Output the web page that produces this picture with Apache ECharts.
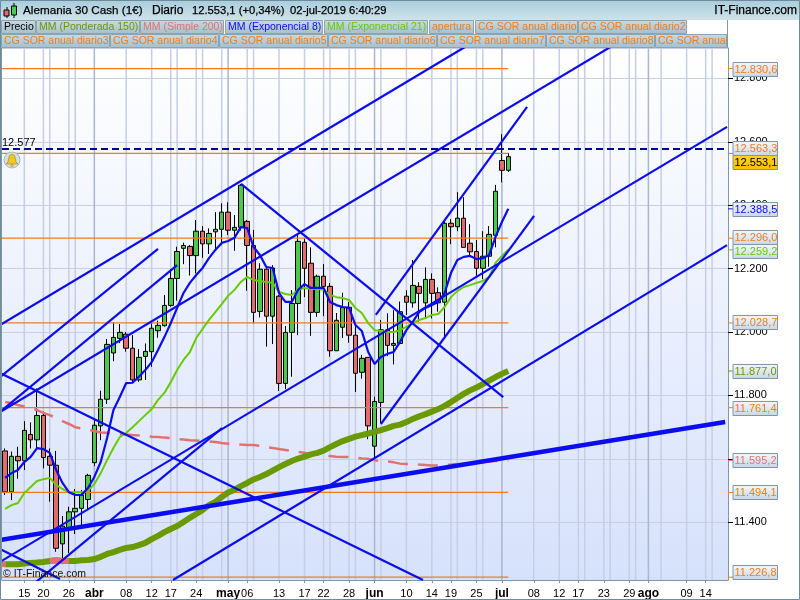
<!DOCTYPE html>
<html><head><meta charset="utf-8">
<style>html,body{margin:0;padding:0;background:#fff}#c{width:800px;height:600px}</style>
<script src="https://cdn.jsdelivr.net/npm/echarts@6/dist/echarts.min.js"></script>
</head><body><div id="c"></div>
<script>
const opens=[11625,11496,11608,11594,11677,11660,11737,11608,11580,11332,11383,11433,11444,11472,11588,11704,11788,11934,11980,11993,11949,11849,11923,11938,12004,12020,12084,12169,12264,12270,12241,12318,12278,12316,12324,12378,12321,12330,12349,12273,12065,12198,12050,12113,11838,11999,12090,12283,12217,12062,12176,12144,11941,12015,12078,11990,11873,11920,11640,11778,12007,11958,11964,12113,12092,12144,12092,12166,12124,12094,12343,12332,12359,12280,12254,12201,12239,12305,12541,12510];
const closes=[11496,11608,11594,11690,11660,11737,11604,11580,11318,11388,11433,11444,11486,11548,11706,11788,11961,11983,11999,11949,11849,11920,11939,12012,12021,12084,12169,12254,12273,12241,12318,12278,12311,12324,12378,12321,12330,12463,12273,12062,12198,12050,12202,11838,11999,12090,12286,12201,12062,12176,12144,11941,12037,12077,11990,11870,11917,11704,11781,12007,11958,11964,12064,12094,12147,12122,12166,12122,12092,12343,12332,12359,12267,12253,12201,12239,12308,12444,12510,12553];
const lows=[11486,11470,11537,11565,11633,11634,11570,11465,11307,11268,11303,11363,11391,11439,11577,11659,11773,11908,11965,11938,11839,11843,11849,11890,11982,12017,12080,12099,12214,12178,12185,12234,12246,12262,12274,12306,12256,12320,12130,12027,12046,11954,11962,11814,11820,11859,11990,12110,11988,12048,12050,11922,11941,11981,11966,11811,11853,11662,11603,11712,11924,11898,11962,12054,12077,12033,12043,12043,12064,11985,12277,12318,12267,12243,12174,12167,12206,12267,12472,12505];
const highs=[11633,11623,11638,11719,11715,11822,11749,11633,11625,11420,11449,11505,11502,11553,11722,11815,11978,12031,12025,12000,11990,11946,11964,12028,12036,12117,12198,12269,12282,12274,12353,12334,12327,12378,12406,12409,12369,12467,12353,12322,12217,12201,12211,12117,12019,12132,12306,12296,12267,12181,12214,12155,12060,12124,12095,12022,11928,11921,11796,12038,12059,12069,12096,12132,12227,12157,12204,12185,12141,12351,12356,12441,12425,12340,12290,12318,12334,12464,12624,12564];
const ema8=[11540,11555,11565,11590,11606,11634,11631,11619,11565,11524,11495,11486,11486,11508,11543,11590,11666,11754,11795,11839,11840,11859,11880,11905,11943,11984,12028,12076,12123,12155,12180,12202,12233,12259,12281,12287,12297,12331,12328,12268,12243,12205,12202,12123,12095,12095,12133,12151,12139,12139,12139,12095,12085,12079,12076,12022,12003,11937,11899,11921,11931,11937,11969,12006,12032,12063,12076,12085,12095,12123,12186,12227,12237,12240,12230,12233,12243,12300,12347,12388.5];
const ema21=[11442,11454,11461,11492,11511,11530,11536,11540,11518,11505,11495,11495,11495,11499,11521,11555,11596,11634,11669,11682,11700,11719,11738,11757,11786,11808,11842,11880,11912,11937,11981,12010,12038,12063,12088,12114,12133,12158,12174,12164,12161,12158,12155,12126,12120,12117,12133,12139,12136,12136,12133,12117,12110,12107,12101,12076,12060,12028,12006,12003,12000,12000,12006,12016,12028,12038,12044,12054,12057,12079,12110,12129,12142,12148,12155,12161,12174,12218,12240,12259.2];
const wma150=[11268,11268,11268,11270,11272,11273,11275,11278,11280,11278,11278,11278,11280,11281,11284,11291,11300,11306,11313,11319,11322,11328,11335,11347,11357,11369,11379,11388,11401,11414,11426,11439,11454,11464,11480,11494,11502,11514,11524,11535,11543,11552,11563,11574,11584,11593,11601,11607,11614,11619,11626,11637,11647,11656,11663,11670,11675,11680,11685,11691,11697,11704,11708,11716,11726,11734,11741,11749,11757,11767,11779,11792,11805,11816,11825,11836,11847,11858,11868,11877];
const sma200=[11779,11776,11770,11765,11760,11754,11745,11738,11729,11719,11710,11700,11696,11691,11688,11683,11682,11680,11678,11677,11675,11674,11672,11670,11669,11667,11666,11663,11661,11659,11658,11656,11655,11653,11650,11648,11647,11645,11644,11644,11641,11637,11634,11631,11628,11625,11622,11619,11615,11614,11612,11609,11607,11606,11606,11604,11601,11600,11596,11593,11592,11589,11585,11584,11584,11582,11581,11579,11579,11581,11582,11584,11585,11587,11589,11590,11592,11593,11594,11595.2];
const sorLevels=[12830.6,12563.3,12296.0,12028.7,11761.4,11494.1,11226.8];
const alertLevel=12577;
const trendLines=[[-0.81,12022,72.2,12899],[-0.81,11748,95.3,12902],[-0.81,11275,113.35,12647],[26.35,11218,113.35,12274],[4.68,11209,34.05,11697],[-0.81,11858,24.0,12262],[-0.81,11748,27.0,12211],[-0.81,11871,65.6,11218],[-0.81,11316,8.6,11221],[37.03,12467,78.2,11795],[58.2,12054,81.95,12710],[59.0,11710,83.05,12366]];
const thickLine=[-0.81,11344,113.05,11716];
const slotCount=114;
const tickIndex=[3,6,10,14,19,23,26,30,35,38,43,47,50,54,58,63,67,70,74,78,83,87,90,94,98,101,107,110];
const tickText=['15','20','26','abr','08','12','17','24','may','06','13','17','22','28','jun','10','14','19','25','jul','08','12','17','23','29','ago','09','14'];
const minorGrid=[3,6,7,10,11,19,23,26,27,30,31,34,38,39,43,47,50,51,54,55,59,63,67,70,71,74,75,83,87,90,91,94,95,98,99,103,107,110,111];
const monthGrid=[14,35,58,78,101];
const tagValues=[12830.6,12563.3,12388.5,12296.0,12259.2,12028.7,11877.0,11761.4,11595.2,11494.1,11226.8];
const tagTexts=['12.830,6','12.563,3','12.388,5','12.296,0','12.259,2','12.028,7','11.877,0','11.761,4','11.595,2','11.494,1','11.226,8'];
const lastPrice=12553.1, lastText='12.553,1';
const yMin=11218, yMax=12895.7;

const ORANGE='#f07d1a',BLUE='#0c0cf0',OLIVE='#6a9a00',LIME='#66cc00',ROSE='#e27272';
const tagColor=[ORANGE,ORANGE,BLUE,ORANGE,LIME,ORANGE,OLIVE,ORANGE,ROSE,ORANGE,ORANGE];
const tagNudge=[0,-5.5,0,-1,1,-1,0,0,0,0,-5];
const FONT='"Liberation Sans",Arial,sans-serif';
const pairs=a=>a.map((v,i)=>[i,v]);
const lineS=(data,color,width,z,extra)=>Object.assign({type:'line',xAxisIndex:1,yAxisIndex:0,data,symbol:'none',silent:true,animation:false,z,lineStyle:{color,width,cap:'butt'}},extra||{});
const vlines=list=>list.flatMap(i=>[[i,yMin],[i,yMax],[i,null]]);

const series=[];
series.push(lineS(vlines(minorGrid),'#c6cee4',1.5,1));
series.push(lineS(vlines(monthGrid),'#aab6cc',1.5,1));
series.push({type:'candlestick',xAxisIndex:0,yAxisIndex:0,barWidth:5,z:2,silent:true,animation:false,
  data:opens.map((o,i)=>[o,closes[i],lows[i],highs[i]]),
  itemStyle:{color:'#4cc94c',color0:'#e06c6c',borderColor:'#000',borderColor0:'#000',borderColorDoji:'#000',borderWidth:1}});
sorLevels.forEach(v=>series.push(lineS([[-0.5,v],[79,v]],ORANGE,1.3,3)));
series.push(lineS(pairs(sma200),ROSE,2.5,3,{lineStyle:{color:ROSE,width:2.5,type:[20,10]}}));
series.push(lineS(pairs(wma150),OLIVE,6,3));
series.push(lineS([[-0.5,wma150[0]],[0,wma150[0]]],ROSE,6,3));
series.push(lineS([7,8,9,10].map(i=>[i,wma150[i]]),ROSE,6,3));
series.push(lineS(pairs(ema21),LIME,2,4));
series.push(lineS(pairs(ema8),BLUE,2.2,5));
trendLines.forEach(t=>series.push(lineS([[t[0],t[1]],[t[2],t[3]]],BLUE,2.2,5)));
series.push(lineS([[thickLine[0],thickLine[1]],[thickLine[2],thickLine[3]]],BLUE,4.5,5));
series.push(lineS([[-0.5,alertLevel],[113.5,alertLevel]],'#0000a0',2,6,{lineStyle:{color:'#0000a0',width:2,type:[7,4]}}));

const slots=Array.from({length:slotCount},(_,i)=>String(i));
const chart=echarts.init(document.getElementById('c'),null,{renderer:'canvas'});
const isBold=t=>/^[a-z]/.test(t);
chart.setOption({
  animation:false,
  grid:{left:2,top:48,width:726,height:532,show:true,borderWidth:0,containLabel:false,
    backgroundColor:new echarts.graphic.LinearGradient(0,0,0,1,[{offset:0,color:'#ffffff'},{offset:1,color:'#d6e1fb'}])},
  xAxis:[
    {type:'category',data:slots,boundaryGap:true,
     axisLine:{show:true,onZero:false,lineStyle:{color:'#7f98a4',width:1}},
     axisTick:{show:true,alignWithLabel:true,length:3,lineStyle:{color:'#7f98a4'},interval:i=>tickIndex.includes(i)},
     axisLabel:{show:true,interval:i=>tickIndex.includes(i),margin:8,hideOverlap:false,color:'#000',fontFamily:FONT,fontSize:11,
       formatter:(v,i)=>{const k=tickIndex.indexOf(+v);if(k<0)return '';const t=tickText[k];return isBold(t)?'{b|'+t+'}':t;},
       rich:{b:{fontWeight:'bold',fontSize:12,fontFamily:FONT,color:'#000'}}},
     splitLine:{show:false}},
    {type:'value',show:false,min:-0.5,max:113.5,splitLine:{show:false}}
  ],
  yAxis:[{type:'value',position:'right',min:yMin,max:yMax,splitNumber:8,
    axisLine:{show:true,onZero:false,lineStyle:{color:'#7f98a4',width:1}},
    axisTick:{show:true,length:5,lineStyle:{color:'#000'}},
    axisLabel:{margin:6,color:'#000',fontFamily:FONT,fontSize:11,showMinLabel:false,showMaxLabel:false,
      formatter:v=>{const s=String(v);return s.slice(0,2)+'.'+s.slice(2);}},
    splitLine:{show:true,lineStyle:{color:'#c8cfe2',width:1.2}}}],
  series
});

const g=[];
const vgrad=(a,b)=>new echarts.graphic.LinearGradient(0,0,0,1,[{offset:0,color:a},{offset:1,color:b}]);
g.push({type:'rect',z:50,shape:{x:0,y:0,width:800,height:20},style:{fill:vgrad('#a8cddc','#cfe2ea')}});
g.push({type:'rect',z:50,shape:{x:0,y:20,width:727,height:28},style:{fill:'#ffffff'}});
g.push({type:'line',z:51,shape:{x1:7,y1:7,x2:7,y2:18},style:{stroke:'#000'}});
g.push({type:'rect',z:52,shape:{x:4,y:10,width:5,height:6},style:{fill:'#e06c6c',stroke:'#000'}});
g.push({type:'line',z:51,shape:{x1:14,y1:3,x2:14,y2:18},style:{stroke:'#000'}});
g.push({type:'rect',z:52,shape:{x:11.5,y:6,width:5,height:9},style:{fill:'#4cc94c',stroke:'#000'}});
const hText=(text,x,size,align)=>g.push({type:'text',z:53,x,y:11,style:{text,fill:'#000',font:size+'px '+FONT,textAlign:align||'left',textVerticalAlign:'middle',stroke:'#000',lineWidth:.25}});
hText('Alemania 30 Cash (1€)',23,11.7);hText('Diario',152,12);hText('12.553,1 (+0,34%)',192,11.2);hText('02-jul-2019 6:40:29',290,11.2);hText('IT-Finance.com',797,12,'right');
const tab=(x,w,y,text,color)=>{
  g.push({type:'rect',z:51,shape:{x:x+.5,y:y,width:w-1,height:13},style:{fill:vgrad('#c9dae2','#a6bfcb'),stroke:'#8aa4b2',lineWidth:1}});
  g.push({type:'text',z:52,x:x+3,y:y+7,style:{text,fill:color,font:'10.5px '+FONT,textVerticalAlign:'middle'}});
};
const rows1=[[1,35,'Precio','#000'],[36,104,'MM (Ponderada 150)',OLIVE],[140,84,'MM (Simple 200)',ROSE],[225,98,'MM (Exponencial 8)',BLUE],[324,104,'MM (Exponencial 21)',LIME],[429,45,'apertura',ORANGE],[475,103,'CG SOR anual diario',ORANGE],[578,109,'CG SOR anual diario2',ORANGE]];
rows1.forEach(r=>tab(r[0],r[1],20.5,r[2],r[3]));
['3','4','5','6','7','8'].forEach((n,i)=>tab(1+i*109,109,34.5,'CG SOR anual diario'+n,ORANGE));
tab(655,72,34.5,'CG SOR anual',ORANGE);
const py=v=>chart.convertToPixel({yAxisIndex:0},v);
g.push({type:'text',z:20,x:2,y:py(alertLevel)-6,style:{text:'12.577',fill:'#000',font:'11px '+FONT,textVerticalAlign:'middle'}});
g.push({type:'circle',z:20,shape:{cx:12,cy:160,r:8},style:{fill:'#d4e0e8',stroke:'#a9bac6'}});
g.push({type:'polygon',z:21,shape:{points:[[12,154],[14.5,155.5],[15.5,159],[16,162],[18,164],[6,164],[8,162],[8.5,159],[9.5,155.5]]},style:{fill:'#f4c820',stroke:'#b88a10',lineWidth:.7}});
g.push({type:'circle',z:21,shape:{cx:12,cy:165.5,r:1.3},style:{fill:'#f4c820',stroke:'#b88a10',lineWidth:.5}});
g.push({type:'text',z:20,x:3,y:574,style:{text:'© IT-Finance.com',fill:'#111',font:'10.5px '+FONT,textVerticalAlign:'middle'}});
tagValues.forEach((v,i)=>{
  const y=py(v);
  g.push({type:'line',z:30,shape:{x1:728,y1:y,x2:733,y2:y},style:{stroke:tagColor[i]}});
  const c=y+tagNudge[i];
  g.push({type:'rect',z:31,shape:{x:733,y:Math.round(c-7)+.5,width:44.5,height:14},style:{fill:vgrad('#f5f8fc','#c8d6e8'),stroke:'#7e97a8'}});
  g.push({type:'text',z:32,x:734.5,y:Math.round(c-7)+8,style:{text:tagTexts[i],fill:tagColor[i],font:'11px '+FONT,textVerticalAlign:'middle'}});
});
const ly=Math.round(py(lastPrice)+5-7)+.5;
g.push({type:'rect',z:33,shape:{x:733,y:ly,width:44.5,height:14},style:{fill:vgrad('#ffd21e','#ffbe00'),stroke:'#7e97a8'}});
g.push({type:'text',z:34,x:734.5,y:ly+7.5,style:{text:lastText,fill:'#000',font:'11px '+FONT,textVerticalAlign:'middle'}});
g.push({type:'rect',z:60,shape:{x:.5,y:.5,width:799,height:599},style:{fill:'none',stroke:'#6f8a98',lineWidth:1}});
g.push({type:'line',z:60,shape:{x1:727.5,y1:20,x2:727.5,y2:48},style:{stroke:'#7f98a4'}});
g.push({type:'line',z:60,shape:{x1:1.5,y1:48,x2:1.5,y2:580},style:{stroke:'#7f98a4'}});
chart.setOption({graphic:{elements:g}});
</script></body></html>
